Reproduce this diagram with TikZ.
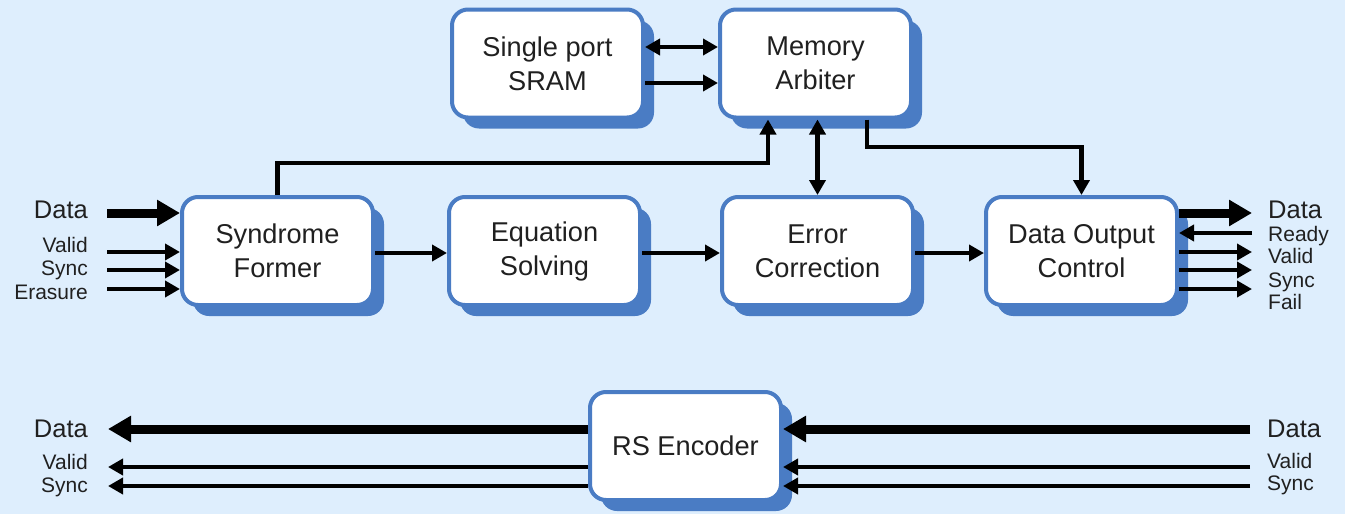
\documentclass[tikz,border=0pt]{standalone}
\usepackage{fontspec}
\setmainfont{Liberation Sans}
\usetikzlibrary{arrows.meta,shadows,calc}

\definecolor{bgblue}{RGB}{222,238,253}
\definecolor{boxblue}{RGB}{74,124,196}
\definecolor{inkgray}{RGB}{32,32,32}

\tikzset{
  block/.style={draw=boxblue, line width=4pt, fill=white, rounded corners=16pt,
    minimum width=191pt, minimum height=108pt, align=center, text=inkgray,
    font=\fontsize{27.2}{34}\selectfont,
    drop shadow={shadow xshift=11pt, shadow yshift=-11pt, fill=boxblue, opacity=1}},
  sig/.style={line width=4.5pt, -{Triangle[length=15pt,width=16pt]}},
  bisig/.style={line width=4.5pt, {Triangle[length=15pt,width=16pt]}-{Triangle[length=15pt,width=16pt]}},
  bus/.style={line width=9pt, -{Triangle[length=23pt,width=25pt]}},
  busname/.style={inner sep=0pt, text=inkgray, font=\fontsize{25.5}{25}\selectfont},
  signame/.style={inner sep=0pt, text=inkgray, font=\fontsize{21}{21}\selectfont},
}

\begin{document}
\begin{tikzpicture}[x=1pt, y=-1pt]
  % canvas
  \fill[bgblue] (0,0) rectangle (1345,514);
  \useasboundingbox (0,0) rectangle (1345,514);

  % blocks
  \node[block] (sram) at (547.5,63.5) {Single port\\SRAM};
  \node[block] (arb)  at (815.5,63.5) {Memory\\Arbiter};
  \node[block] (syn)  at (277.5,251) {Syndrome\\Former};
  \node[block] (eqs)  at (544.5,251) {Equation\\Solving};
  \node[block] (err)  at (817.5,251) {Error\\Correction};
  \node[block] (doc)  at (1081.5,251) {Data Output\\Control};
  \node[block] (rs)   at (685.5,446) {RS Encoder};

  % memory side
  \draw[bisig] (sram.east |- 0,47) -- (arb.west |- 0,47);
  \draw[sig]   (sram.east |- 0,83) -- (arb.west |- 0,83);
  \draw[sig]   (syn.north) -- (syn.north |- 0,163) -| ([xshift=-47.5pt]arb.south);
  \draw[bisig] (err.north |- arb.south) -- (err.north);
  \draw[sig]   ([xshift=51.5pt]arb.south) |- (doc.north |- 0,147) -- (doc.north);

  % decoder pipeline
  \draw[sig] (syn.east |- 0,253) -- (eqs.west |- 0,253);
  \draw[sig] (eqs.east |- 0,253) -- (err.west |- 0,253);
  \draw[sig] (err.east |- 0,253) -- (doc.west |- 0,253);

  % decoder inputs
  \coordinate (iData) at (107,213);
  \coordinate (iValid) at (107,252);
  \coordinate (iSync) at (107,270);
  \coordinate (iErase) at (107,289);
  \draw[bus] (iData) -- (syn.west |- iData);
  \draw[sig] (iValid) -- (syn.west |- iValid);
  \draw[sig] (iSync) -- (syn.west |- iSync);
  \draw[sig] (iErase) -- (syn.west |- iErase);
  \node[busname, anchor=base east] (lData) at (88,218) {Data};
  \node[signame, anchor=base east] (lValid) at (88,252) {Valid};
  \node[signame, anchor=base east] (lSync) at (88,275) {Sync};
  \node[signame, anchor=base east] (lErase) at (88,299) {Erasure};

  % decoder outputs
  \coordinate (oData) at (1252,213);
  \coordinate (oReady) at (1252,233);
  \coordinate (oValid) at (1252,252);
  \coordinate (oSync) at (1252,270);
  \coordinate (oFail) at (1252,289);
  \draw[bus] (doc.east |- oData) -- (oData);
  \draw[sig] (oReady) -- (doc.east |- oReady);
  \draw[sig] (doc.east |- oValid) -- (oValid);
  \draw[sig] (doc.east |- oSync) -- (oSync);
  \draw[sig] (doc.east |- oFail) -- (oFail);
  \node[busname, anchor=base west] (rData) at (1268,218) {Data};
  \node[signame, anchor=base west] (rReady) at (1268,241) {Ready};
  \node[signame, anchor=base west] (rValid) at (1268,263) {Valid};
  \node[signame, anchor=base west] (rSync) at (1268,287) {Sync};
  \node[signame, anchor=base west] (rFail) at (1268,309) {Fail};

  % encoder
  \coordinate (eInData) at (1250,429);
  \coordinate (eInValid) at (1250,467);
  \coordinate (eInSync) at (1250,486);
  \coordinate (eOutData) at (108,429);
  \coordinate (eOutValid) at (108,467);
  \coordinate (eOutSync) at (108,486);
  \draw[bus] (eInData) -- (rs.east |- eInData);
  \draw[sig] (eInValid) -- (rs.east |- eInValid);
  \draw[sig] (eInSync) -- (rs.east |- eInSync);
  \draw[bus] (rs.west |- eOutData) -- (eOutData);
  \draw[sig] (rs.west |- eOutValid) -- (eOutValid);
  \draw[sig] (rs.west |- eOutSync) -- (eOutSync);
  \node[busname, anchor=base east] (eData) at (88,437) {Data};
  \node[signame, anchor=base east] (eValid) at (88,469) {Valid};
  \node[signame, anchor=base east] (eSync) at (88,492) {Sync};
  \node[busname, anchor=base west] (fData) at (1267,437) {Data};
  \node[signame, anchor=base west] (fValid) at (1267,468) {Valid};
  \node[signame, anchor=base west] (fSync) at (1267,490) {Sync};
\end{tikzpicture}
\end{document}
